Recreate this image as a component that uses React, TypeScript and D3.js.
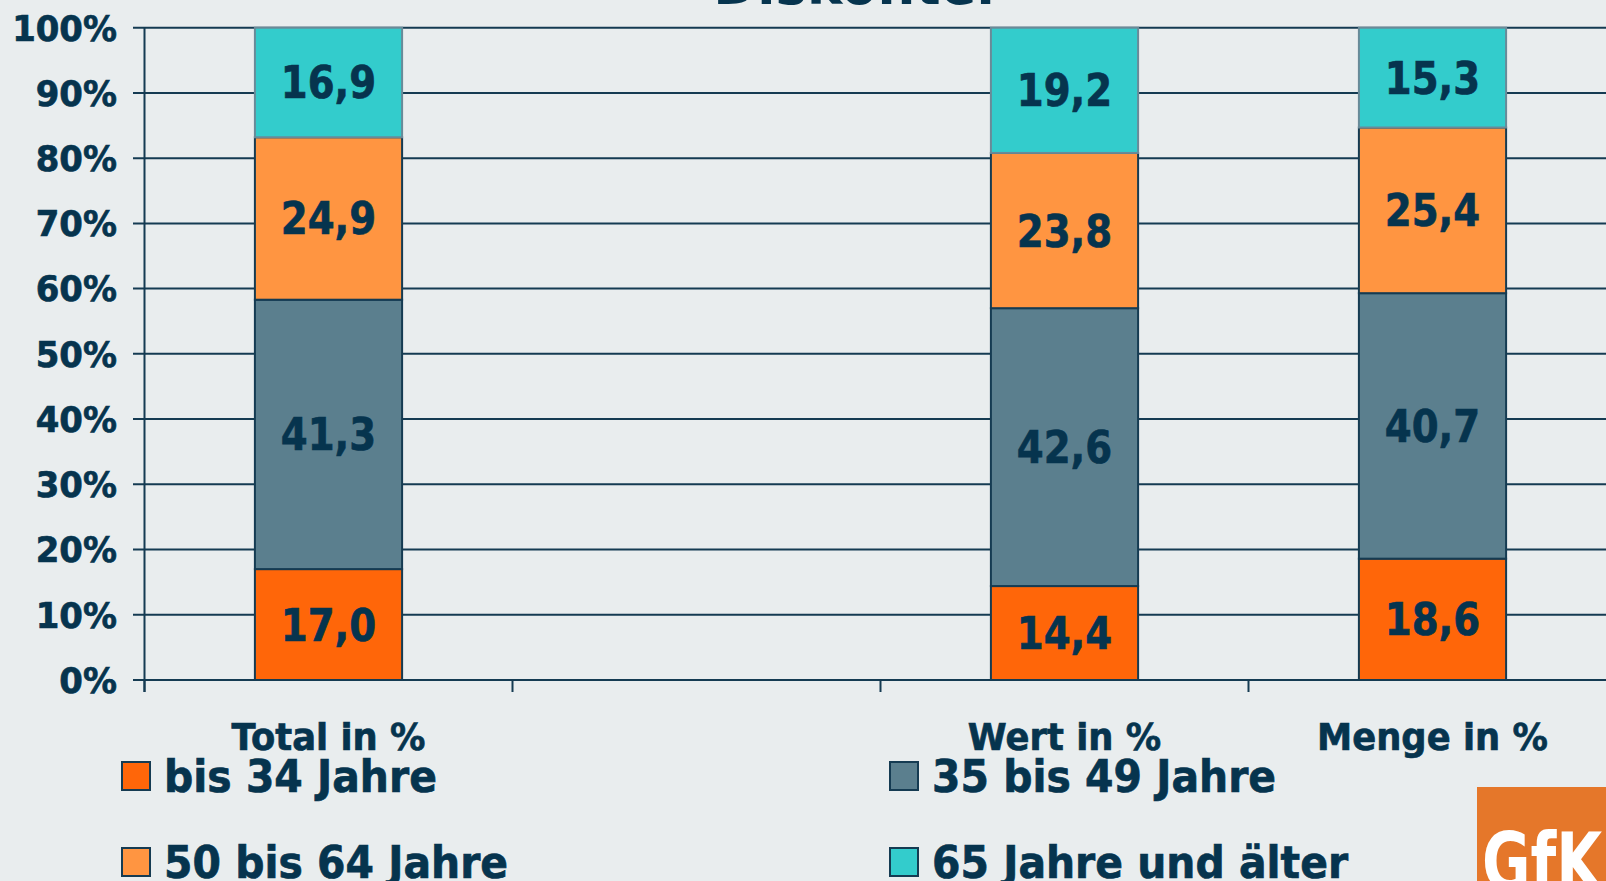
import React from "react";
import * as d3 from "d3";

// values (percent)
const categories = ["Total in %", "", "Wert in %", "Menge in %"];
const seriesNames = ["bis 34 Jahre", "35 bis 49 Jahre", "50 bis 64 Jahre", "65 Jahre und älter"];
const bis34 = [17.0, null, 14.4, 18.6];
const bis49 = [41.3, null, 42.6, 40.7];
const bis64 = [24.9, null, 23.8, 25.4];
const ab65 = [16.9, null, 19.2, 15.3];
const yTicks = [0, 10, 20, 30, 40, 50, 60, 70, 80, 90, 100];
const title = "Diskonter";

const fills = ["#FF6609", "#5B7F8E", "#FF9541", "#33CCCC"];
const strokes = ["#153B52", "#153B52", "#153B52", "#6A8A98"];
const ink = "#06344E";
const font = "'DejaVu Sans', Verdana, sans-serif";

const W = 1606, H = 881;

export default function App() {
    const series = [bis34, bis49, bis64, ab65];

    const x = d3.scaleBand<string>()
        .domain(categories)
        .range([144.5, 144.5 + 4 * 368])
        .paddingInner(0.6)
        .paddingOuter(0.3);
    const y = d3.scaleLinear().domain([0, 100]).range([680, 27.7]);

    const step = x.step();
    const x0 = x.range()[0];
    const fmt = (v: number) => v.toFixed(1).replace(".", ",");

    // stack the segments per category
    const segments: any[] = [];
    categories.forEach((cat, ci) => {
        let acc = 0;
        series.forEach((s, si) => {
            const v = s[ci];
            if (v == null) return;
            segments.push({ cat, si, v, lo: acc, hi: Math.min(acc + v, 100) });
            acc += v;
        });
    });

    const legend = [
        { si: 0, col: 0, row: 0 },
        { si: 1, col: 1, row: 0 },
        { si: 2, col: 0, row: 1 },
        { si: 3, col: 1, row: 1 }
    ];
    const legendX = [122, 890];
    const legendY = [762, 848];

    // a thin outline makes DejaVu look closer to the heavier Tahoma bold
    const heavy = { stroke: ink, strokeWidth: 0.7 };

    return (
        <svg width={W} height={H} style={{ position: "absolute", left: 0, top: 0, background: "#E9EDEE" }}>
            <rect x={0} y={0} width={W} height={H} fill="#E9EDEE" />

            {/* title, mostly cut off at the top */}
            <text transform={`translate(858,3.5) scale(0.915,1)`} textAnchor="middle"
                fontFamily={font} fontWeight="bold" fontSize={58} fill={ink}>{title}</text>

            {/* gridlines + y ticks */}
            {yTicks.map(t => (
                <g key={t}>
                    <line x1={133} x2={W} y1={y(t)} y2={y(t)} stroke="#153B52" strokeWidth={2} />
                    <text transform={`translate(117,${y(t) + 12.8}) scale(0.97,1)`} textAnchor="end"
                        fontFamily={font} fontWeight="bold" fontSize={35} fill={ink} {...heavy}>{t}%</text>
                </g>
            ))}

            {/* y axis line */}
            <line x1={144.5} x2={144.5} y1={y(100)} y2={692} stroke="#153B52" strokeWidth={2} />
            {/* category ticks */}
            {d3.range(categories.length + 1).map(i => (
                <line key={i} x1={x0 + i * step} x2={x0 + i * step} y1={y(0)} y2={692}
                    stroke="#153B52" strokeWidth={2} />
            ))}

            {/* bars */}
            {segments.map((d, i) => (
                <rect key={i} x={x(d.cat)} y={y(d.hi)} width={x.bandwidth()} height={y(d.lo) - y(d.hi)}
                    fill={fills[d.si]} stroke={strokes[d.si]} strokeWidth={2} />
            ))}
            {segments.map((d, i) => (
                <text key={"l" + i}
                    transform={`translate(${(x(d.cat) || 0) + x.bandwidth() / 2},${(y(d.lo) + y(d.hi)) / 2 + 16}) scale(0.86,1)`}
                    textAnchor="middle" fontFamily={font} fontWeight="bold" fontSize={45} fill={ink} {...heavy}>
                    {fmt(d.v)}
                </text>
            ))}

            {/* category labels */}
            {categories.map(c => c && (
                <text key={c} transform={`translate(${(x(c) || 0) + x.bandwidth() / 2},750) scale(0.93,1)`}
                    textAnchor="middle" fontFamily={font} fontWeight="bold" fontSize={38} fill={ink} {...heavy}>{c}</text>
            ))}

            {/* legend */}
            {legend.map(l => (
                <g key={l.si}>
                    <rect x={legendX[l.col]} y={legendY[l.row]} width={28} height={28}
                        fill={fills[l.si]} stroke="#153B52" strokeWidth={2} />
                    <text transform={`translate(${legendX[l.col] + 42},${legendY[l.row] + 29.5}) scale(0.93,1)`}
                        fontFamily={font} fontWeight="bold" fontSize={44} fill={ink} {...heavy}>{seriesNames[l.si]}</text>
                </g>
            ))}

            {/* GfK logo */}
            <rect x={1477} y={787} width={W - 1477} height={H - 787} fill="#E5772A" />
            <text transform="translate(1482,890) scale(0.74,1)" fontFamily={font} fontWeight="bold"
                fontSize={80} fill="#FFFFFF">GfK</text>
        </svg>
    );
}
